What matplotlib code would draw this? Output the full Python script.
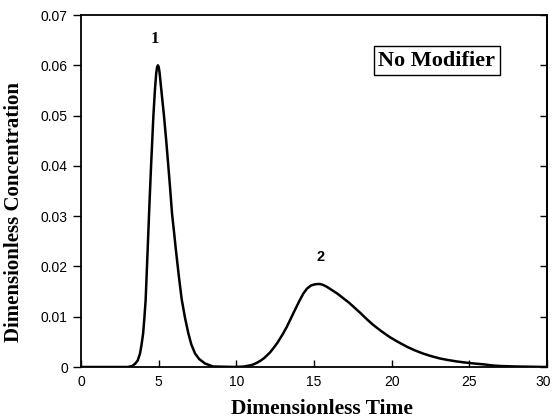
import matplotlib
matplotlib.use("Agg")
import matplotlib.pyplot as plt
import matplotlib.transforms as mtransforms

# peak 1
t1 = [0, 3.0, 3.3, 3.5, 3.65, 3.8, 3.9, 4.0, 4.08, 4.16, 4.29, 4.4, 4.51,
      4.66, 4.76, 4.84, 4.9, 4.95, 5.0, 5.06, 5.14, 5.34, 5.48, 5.62, 5.75,
      5.86, 6.0, 6.1, 6.3, 6.48, 6.7, 6.91, 7.1, 7.34, 7.6, 7.98, 8.5, 10]
c1 = [0, 0, 0.0002, 0.0007, 0.0013, 0.0027, 0.0045, 0.0067, 0.0098, 0.0133,
      0.0233, 0.0320, 0.0400, 0.0500, 0.0552, 0.0584, 0.0597, 0.0600, 0.0597,
      0.0585, 0.0560, 0.0500, 0.0452, 0.0400, 0.0350, 0.0305, 0.0265, 0.0235,
      0.0180, 0.0135, 0.0097, 0.0067, 0.0045, 0.0027, 0.0016, 0.0007, 0.0001, 0]

# peak 2
t2 = [10, 10.5, 11.0, 11.3, 11.53, 11.8, 12.17, 12.4, 12.64, 13.0, 13.25,
      13.5, 13.78, 14.05, 14.31, 14.55, 14.8, 15.0, 15.2, 15.4, 15.6, 15.8,
      16.0, 16.25, 16.5, 16.75, 17.0, 17.25, 17.5, 17.75, 18.0, 18.4, 18.8,
      19.3, 19.9, 20.4, 21.0, 21.5, 22.0, 22.5, 23.1, 23.6, 24.2, 24.7, 25.3,
      26.0, 26.5, 27.0, 28, 30]
c2 = [0, 0.0001, 0.0004, 0.0008, 0.0012, 0.0018, 0.0029, 0.0038, 0.0048,
      0.0066, 0.0080, 0.0096, 0.0114, 0.0131, 0.0146, 0.0156, 0.0162, 0.0164,
      0.0165, 0.0165, 0.0163, 0.0160, 0.0156, 0.0151, 0.0146, 0.0140, 0.0134,
      0.0128, 0.0121, 0.0114, 0.0107, 0.0095, 0.0084, 0.0072, 0.0059, 0.0050,
      0.0040, 0.0033, 0.0027, 0.0022, 0.0017, 0.0014, 0.0011, 0.0009, 0.0007,
      0.0005, 0.0003, 0.0002, 0.0001, 0]

xticks = [0, 5, 10, 15, 20, 25, 30]
yticks = [0, 0.01, 0.02, 0.03, 0.04, 0.05, 0.06, 0.07]
ylabels = ["0", "0.01", "0.02", "0.03", "0.04", "0.05", "0.06", "0.07"]

fig = plt.figure(figsize=(5.53, 4.18), dpi=100)
ax = fig.add_axes([0.1465, 0.122, 0.8427, 0.842])

ax.plot(t1, c1, color="black", lw=1.8, solid_joinstyle="round")
ax.plot(t2, c2, color="black", lw=1.8, solid_joinstyle="round")

ax.set_xlim(0, 30)
ax.set_ylim(0, 0.07)
ax.set_xticks(xticks)
ax.set_xticklabels([str(v) for v in xticks], fontfamily="Liberation Sans", fontsize=10)
ax.set_yticks(yticks)
ax.set_yticklabels(ylabels, fontfamily="Liberation Sans", fontsize=10)
ax.tick_params(axis="x", direction="in", length=5, width=1, pad=6)
ax.tick_params(axis="y", direction="out", length=6, width=1)
# keep the "30" inside the picture
last = ax.get_xticklabels()[-1]
last.set_transform(last.get_transform() + mtransforms.ScaledTranslation(-4 / 100, 0, fig.dpi_scale_trans))

right = ax.secondary_yaxis("right")
right.set_yticks(yticks)
right.set_yticklabels([])
right.tick_params(direction="in", length=5, width=1)

for s in ax.spines.values():
    s.set_linewidth(1.3)
right.spines["right"].set_linewidth(1.3)

ax.set_xlabel("Dimensionless Time", fontfamily="Liberation Serif",
              fontweight="bold", fontsize=15.5, va="top")
ax.xaxis.set_label_coords(0.516, -0.09)
ax.set_ylabel("Dimensionless Concentration", fontfamily="Liberation Serif",
              fontweight="bold", fontsize=15)
ax.yaxis.set_label_coords(-0.122, 0.44)

ax.text(4.76, 0.0653, "1", ha="center", va="center", fontfamily="Liberation Serif",
        fontweight="bold", fontsize=12)
ax.text(15.4, 0.0219, "2", ha="center", va="center", fontfamily="Liberation Sans",
        fontweight="bold", fontsize=10.5)
ax.text(22.9, 0.0609, "No Modifier", ha="center", va="center",
        fontfamily="Liberation Serif", fontweight="bold", fontsize=16,
        bbox=dict(boxstyle="square,pad=0.2", fc="white", ec="black", lw=1))

fig.savefig("out.png", dpi=100)
